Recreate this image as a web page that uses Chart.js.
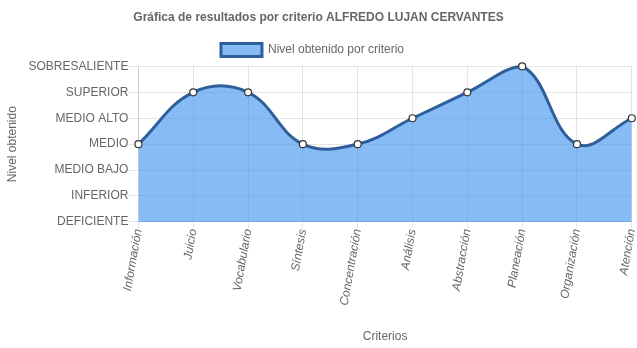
<!DOCTYPE html>
<html>
<head>
<meta charset="utf-8">
<script src="https://cdn.jsdelivr.net/npm/chart.js@4/dist/chart.umd.min.js"></script>
<style>
    html, body { margin: 0; padding: 0; background: #fff; }
    #wrap { width: 637px; height: 348px; }
</style>
</head>
<body>
<div id="wrap"><canvas id="grafica-criterios"></canvas></div>
<script>
// Niveles de la escala (de menor a mayor)
const niveles = ['DEFICIENTE', 'INFERIOR', 'MEDIO BAJO', 'MEDIO', 'MEDIO ALTO', 'SUPERIOR', 'SOBRESALIENTE'];

const criterios = ['Información', 'Juicio', 'Vocabulario', 'Síntesis', 'Concentración',
    'Análisis', 'Abstracción', 'Planeación', 'Organización', 'Atención'];

// Índice del nivel obtenido en cada criterio
const nivelObtenido = [3, 5, 5, 3, 3, 4, 5, 6, 3, 4];

Chart.defaults.font.family = '"Liberation Sans", Arial, sans-serif';
Chart.defaults.color = '#666';

// corre un poco la leyenda hacia la izquierda
const moverLeyenda = {
    id: 'moverLeyenda',
    afterLayout(chart) {
        if (chart.legend) {
            chart.legend.left -= 6;
            chart.legend.right -= 6;
        }
    }
};

const ctx = document.getElementById('grafica-criterios').getContext('2d');

new Chart(ctx, {
    type: 'line',
    data: {
        labels: criterios,
        datasets: [{
            label: 'Nivel obtenido por criterio',
            data: nivelObtenido,
            borderColor: '#2e5f9a',
            backgroundColor: 'rgba(54, 141, 240, 0.6)',
            borderWidth: 3,
            fill: true,
            tension: 0.4,
            clip: false,
            pointRadius: 3.5,
            pointBorderWidth: 1.2,
            pointBackgroundColor: '#fff',
            pointBorderColor: '#333'
        }]
    },
    options: {
        responsive: true,
        maintainAspectRatio: false,
        animation: false,
        layout: { padding: { right: 0, top: 3 } },
        plugins: {
            title: {
                display: true,
                text: 'Gráfica de resultados por criterio ALFREDO LUJAN CERVANTES',
                font: { size: 12, weight: 'bold' },
                padding: { top: 7, bottom: 13 }
            },
            legend: {
                display: true,
                position: 'top',
                labels: { boxWidth: 41, boxHeight: 13, font: { size: 12 }, padding: 6 }
            },
            tooltip: { enabled: false }
        },
        scales: {
            x: {
                grid: { color: 'rgba(0,0,0,0.1)', tickLength: 6 },
                ticks: {
                    autoSkip: false,
                    minRotation: 80,
                    maxRotation: 80,
                    padding: 0,
                    font: { size: 12, style: 'italic' }
                },
                // la última etiqueta rotada no necesita margen a la derecha
                afterFit: (scale) => { scale.paddingRight = 0; },
                title: { display: true, text: 'Criterios', font: { size: 12 }, padding: { top: 23, bottom: 4 } }
            },
            y: {
                min: 0,
                max: niveles.length - 1,
                grid: { color: 'rgba(0,0,0,0.1)', tickLength: 10 },
                ticks: {
                    stepSize: 1,
                    font: { size: 12 },
                    padding: 0,
                    callback: (v) => niveles[v]
                },
                title: { display: true, text: 'Nivel obtenido', font: { size: 12 }, padding: { top: 5, bottom: 9 } }
            }
        }
    },
    plugins: [moverLeyenda]
});
</script>
</body>
</html>
